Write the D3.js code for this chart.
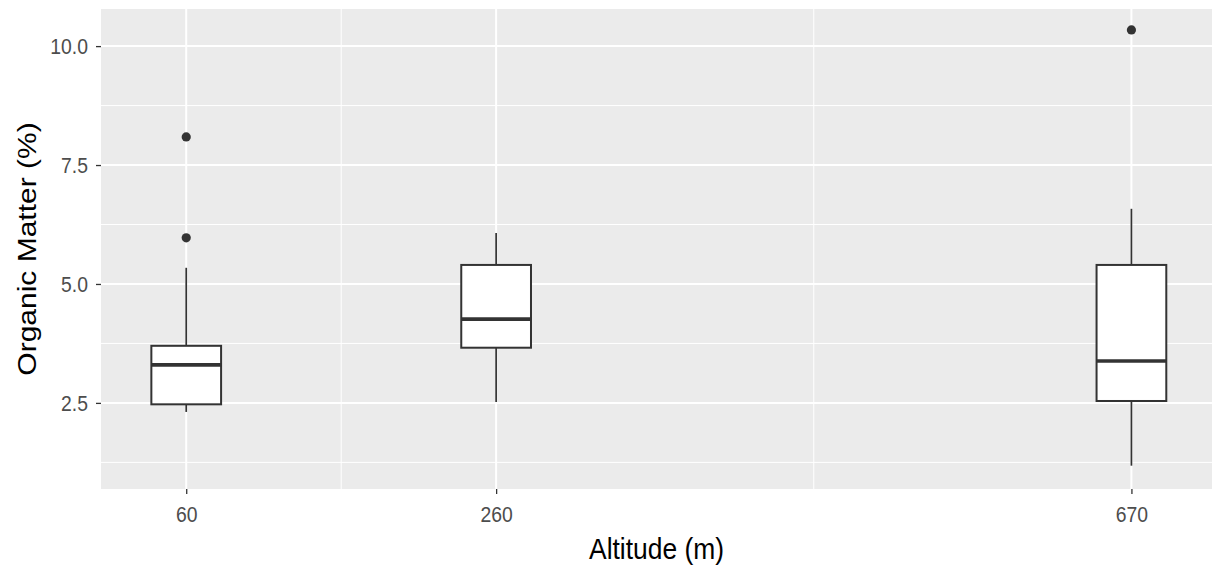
<!DOCTYPE html>
<html>
<head>
<meta charset="utf-8">
<script src="https://cdn.jsdelivr.net/npm/d3@7"></script>
<style>
  body { margin: 0; background: #fff; }
  svg { display: block; font-family: "Liberation Sans", Arial, sans-serif; }
</style>
</head>
<body>
<svg width="1216" height="568"></svg>
<script>
// altitude groups and box statistics
var altitudes = [60, 260, 670];
var lowerWhisker = [2.31, 2.52, 1.18];
var q1 = [2.47, 3.66, 2.54];
var median = [3.30, 4.26, 3.38];
var q3 = [3.70, 5.40, 5.40];
var upperWhisker = [5.34, 6.07, 6.58];
var outliers = [[5.97, 8.09], [], [10.34]];
var yTicks = [2.5, 5.0, 7.5, 10.0];
var yMinor = [1.25, 3.75, 6.25, 8.75];
var xMinor = [160, 465];

var svg = d3.select('svg');

var margin = {top: 9, bottom: 79, left: 101, right: 4};
var width = 1216, height = 568;
var boxWidth = 45; // in altitude units
var squeeze = 0.88; // text in the picture is a little narrower than it is tall

var x = d3.scaleLinear().domain([5, 722]).range([margin.left, width - margin.right]);
var y = d3.scaleLinear().domain([0.69, 10.78]).range([height - margin.bottom, margin.top]);

var data = altitudes.map((a, i) => ({
  alt: a, lo: lowerWhisker[i], q1: q1[i], med: median[i], q3: q3[i], hi: upperWhisker[i], out: outliers[i]
}));

// panel background
svg.append('rect')
  .attr('x', x.range()[0]).attr('y', y.range()[1])
  .attr('width', x.range()[1] - x.range()[0])
  .attr('height', y.range()[0] - y.range()[1])
  .attr('fill', '#EBEBEB');

var grid = svg.append('g');
// minor grid
grid.selectAll('.ymin').data(yMinor).enter().append('line')
  .attr('x1', x.range()[0]).attr('x2', x.range()[1])
  .attr('y1', d => y(d)).attr('y2', d => y(d))
  .attr('stroke', '#fff').attr('stroke-width', 1);
grid.selectAll('.xmin').data(xMinor).enter().append('line')
  .attr('y1', y.range()[0]).attr('y2', y.range()[1])
  .attr('x1', d => x(d)).attr('x2', d => x(d))
  .attr('stroke', '#fff').attr('stroke-width', 1);
// major grid
grid.selectAll('.ymaj').data(yTicks).enter().append('line')
  .attr('x1', x.range()[0]).attr('x2', x.range()[1])
  .attr('y1', d => y(d)).attr('y2', d => y(d))
  .attr('stroke', '#fff').attr('stroke-width', 2);
grid.selectAll('.xmaj').data(altitudes).enter().append('line')
  .attr('y1', y.range()[0]).attr('y2', y.range()[1])
  .attr('x1', d => x(d)).attr('x2', d => x(d))
  .attr('stroke', '#fff').attr('stroke-width', 2);

// axes
var yAxis = d3.axisLeft(y).tickValues(yTicks).tickFormat(d3.format('.1f')).tickSize(5);
var xAxis = d3.axisBottom(x).tickValues(altitudes).tickFormat(d3.format('d')).tickSize(5);

var gy = svg.append('g').attr('transform', 'translate(' + margin.left + ',0)').call(yAxis);
var gx = svg.append('g').attr('transform', 'translate(0,' + (height - margin.bottom) + ')').call(xAxis);
[gx, gy].forEach(g => {
  g.select('.domain').remove();
  g.selectAll('line').attr('stroke', '#333').attr('stroke-width', 1.3);
  g.selectAll('text').attr('fill', '#4D4D4D').style('font-size', '22px')
    .style('font-family', '"Liberation Sans", Arial, sans-serif');
});
gy.selectAll('text').attr('x', -13 / squeeze).attr('dy', '0.34em')
  .attr('transform', 'scale(' + squeeze + ',1)');
gx.selectAll('text').attr('y', 33).attr('dy', 0)
  .attr('transform', 'scale(' + squeeze + ',1)');

// boxes
var boxes = svg.append('g').selectAll('g').data(data).enter().append('g');
boxes.append('line')
  .attr('x1', d => x(d.alt)).attr('x2', d => x(d.alt))
  .attr('y1', d => y(d.hi)).attr('y2', d => y(d.q3))
  .attr('stroke', '#333').attr('stroke-width', 1.7);
boxes.append('line')
  .attr('x1', d => x(d.alt)).attr('x2', d => x(d.alt))
  .attr('y1', d => y(d.q1)).attr('y2', d => y(d.lo))
  .attr('stroke', '#333').attr('stroke-width', 1.7);
boxes.append('rect')
  .attr('x', d => x(d.alt - boxWidth / 2))
  .attr('width', d => x(d.alt + boxWidth / 2) - x(d.alt - boxWidth / 2))
  .attr('y', d => y(d.q3))
  .attr('height', d => y(d.q1) - y(d.q3))
  .attr('fill', '#fff').attr('stroke', '#333').attr('stroke-width', 2);
boxes.append('line')
  .attr('x1', d => x(d.alt - boxWidth / 2)).attr('x2', d => x(d.alt + boxWidth / 2))
  .attr('y1', d => y(d.med)).attr('y2', d => y(d.med))
  .attr('stroke', '#333').attr('stroke-width', 3.6);
boxes.selectAll('circle').data(d => d.out.map(v => ({alt: d.alt, v: v}))).enter().append('circle')
  .attr('cx', d => x(d.alt)).attr('cy', d => y(d.v)).attr('r', 4.6)
  .attr('fill', '#333');

// axis titles
var midX = (x.range()[0] + x.range()[1]) / 2;
svg.append('text')
  .attr('transform', 'translate(' + midX + ',559) scale(' + squeeze + ',1)')
  .attr('text-anchor', 'middle').style('font-size', '30px').attr('fill', '#000')
  .text('Altitude (m)');
svg.append('text')
  .attr('transform', 'translate(36,' + ((y.range()[0] + y.range()[1]) / 2) + ') rotate(-90) scale(1,' + squeeze + ')')
  .attr('text-anchor', 'middle').style('font-size', '30px').attr('fill', '#000')
  .text('Organic Matter (%)');
</script>
</body>
</html>
